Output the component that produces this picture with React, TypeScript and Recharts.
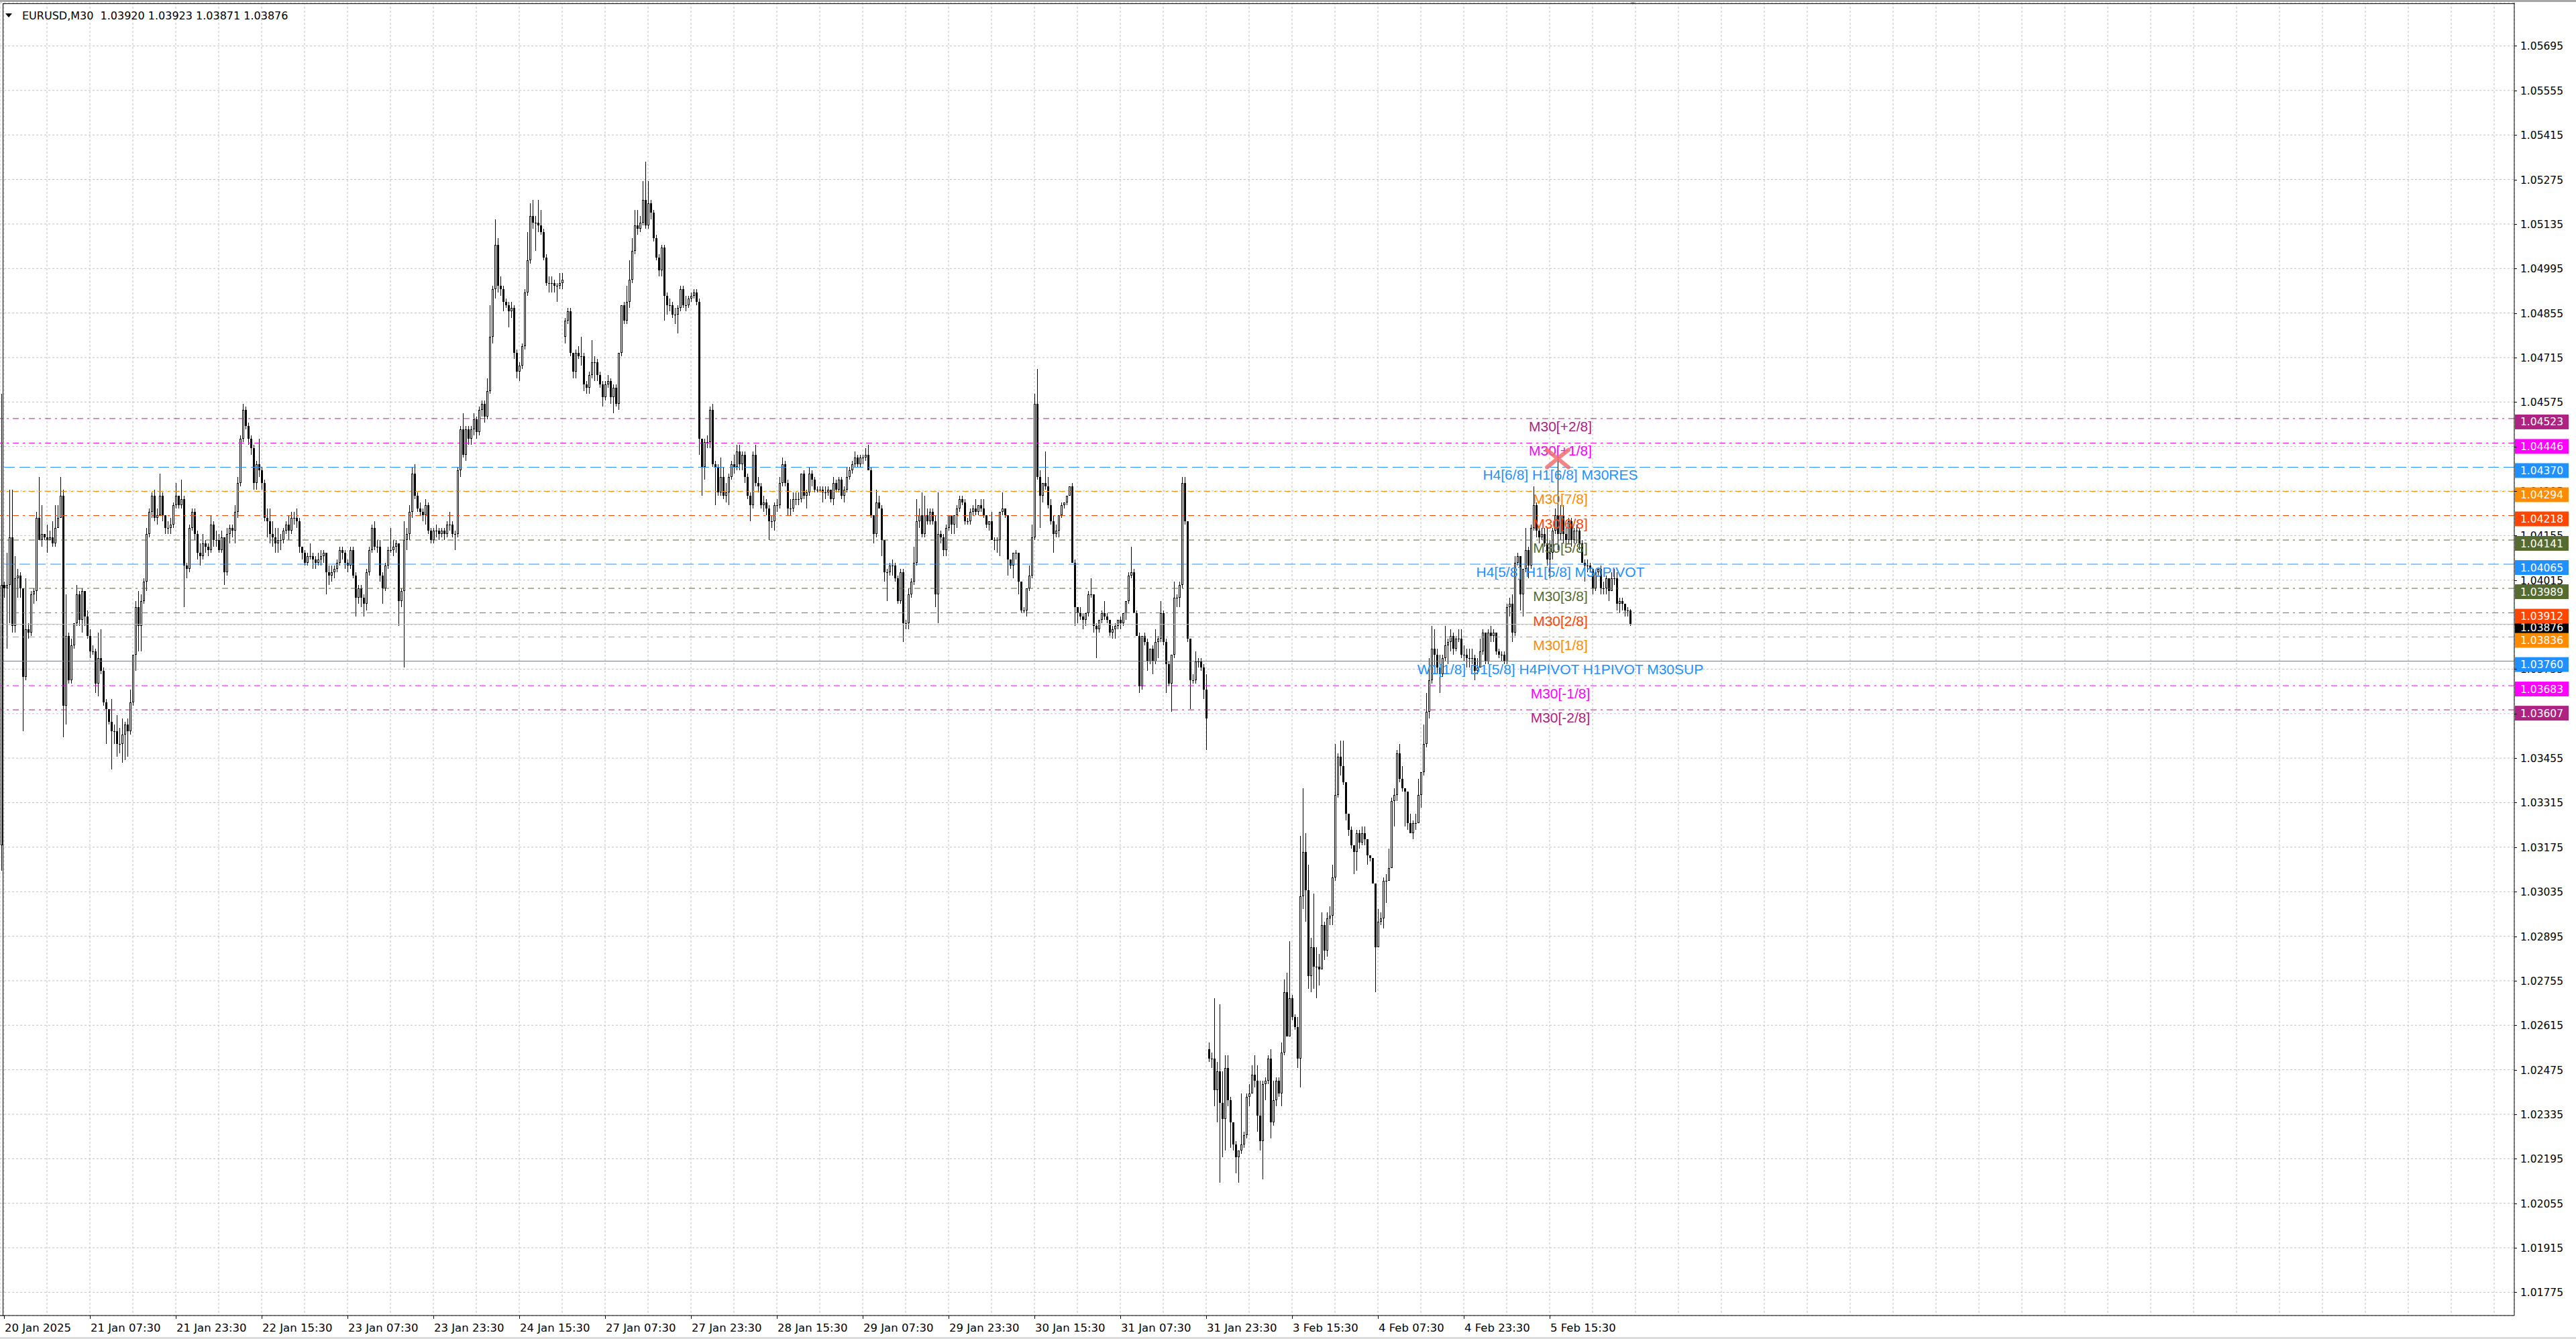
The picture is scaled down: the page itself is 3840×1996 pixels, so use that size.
import { Bar, CartesianGrid, ComposedChart, ReferenceDot, ReferenceLine, XAxis, YAxis } from 'recharts'

// EURUSD M30 candles, prices in pips above 1.0000.
// Each bar is [high, low, close] and opens at the previous close;
// a bar that gaps gets [open, high, low, close].
const jan20 = [
  [318, 460, 310, 400],
  [400, 401, 396, 399], [410, 380, 400], [430, 388, 415], [430, 385, 387], [409, 385, 402],
  [405, 396, 403], [404, 396, 399], [399, 354, 371], [402, 370, 386], [388, 383, 385],
  [398, 384, 397], [399, 394, 398], [423, 395, 421], [434, 414, 414], [425, 412, 416],
  [416, 414, 415], [419, 410, 414],
]
const jan21 = [
  [417, 414, 415], [420, 412, 413], [425, 412, 418], [425, 418, 421], [434, 421, 428],
  [430, 352, 362], [397, 356, 384], [385, 369, 370], [383, 369, 381], [388, 380, 388],
  [400, 387, 397], [398, 387, 389], [399, 385, 398], [398, 387, 390], [392, 383, 384],
  [386, 377, 379], [381, 378, 379], [380, 366, 369], [385, 365, 377], [386, 372, 373],
  [374, 362, 363], [364, 350, 361], [361, 356, 357], [364, 342, 354], [356, 350, 354],
  [359, 346, 350], [355, 347, 350], [358, 344, 353], [357, 345, 356], [358, 346, 354],
  [367, 353, 363], [378, 362, 378], [395, 373, 393], [398, 379, 387], [397, 379, 395],
  [402, 394, 401], [418, 398, 416], [424, 415, 423], [429, 421, 428], [430, 420, 421],
  [424, 419, 422], [435, 425, 428], [429, 420, 422], [422, 416, 418], [420, 416, 418],
  [421, 416, 419], [426, 418, 425], [432, 424, 428],
]
const jan22 = [
  [428, 424, 425], [433, 424, 427], [428, 393, 406], [407, 402, 405], [419, 404, 418],
  [424, 417, 423], [424, 414, 416], [417, 408, 410], [413, 406, 409], [416, 408, 413],
  [414, 410, 412], [413, 409, 411], [422, 410, 419], [420, 412, 414], [417, 412, 414],
  [416, 410, 411], [417, 410, 415], [415, 400, 404], [418, 403, 416], [419, 413, 418],
  [419, 415, 417], [425, 413, 423], [434, 421, 432], [447, 431, 446], [457, 445, 455],
  [456, 449, 450], [451, 444, 446], [447, 441, 443], [444, 430, 432], [439, 430, 438],
  [446, 434, 436], [437, 430, 432], [433, 420, 421], [424, 415, 420], [424, 413, 416],
  [420, 412, 415], [418, 410, 413], [418, 410, 414], [416, 411, 414], [418, 413, 417],
  [420, 416, 419], [422, 414, 417], [423, 416, 421], [423, 419, 421], [424, 418, 420],
  [421, 410, 412], [412, 408, 410], [411, 406, 407],
]
const jan23 = [
  [410, 406, 409], [413, 408, 409], [410, 405, 408], [409, 405, 407], [410, 406, 408],
  [411, 406, 409], [411, 407, 410], [410, 397, 404], [406, 400, 403], [406, 401, 404],
  [406, 402, 405], [408, 404, 407], [412, 406, 411], [412, 408, 410], [411, 405, 407],
  [408, 404, 406], [412, 405, 411], [412, 402, 403], [404, 390, 396], [400, 394, 399],
  [400, 393, 396], [397, 390, 394], [405, 392, 404], [412, 403, 411], [419, 410, 418],
  [420, 411, 412], [414, 410, 412], [414, 401, 403], [404, 394, 399], [407, 398, 406],
  [412, 405, 411], [418, 410, 411], [414, 409, 412], [414, 410, 413], [413, 387, 395],
  [399, 393, 398], [420, 374, 414], [418, 411, 416], [425, 414, 423], [437, 421, 435],
  [438, 427, 428], [429, 423, 424], [426, 422, 423], [424, 420, 422], [427, 419, 425],
  [426, 416, 417], [418, 413, 414], [418, 413, 417],
]
const jan24 = [
  [419, 415, 417], [418, 414, 416], [418, 415, 417], [418, 414, 416], [420, 415, 419],
  [423, 417, 419], [420, 415, 416], [417, 411, 416], [437, 415, 436], [450, 434, 449],
  [454, 440, 441], [450, 439, 449], [450, 444, 446], [450, 444, 449], [454, 447, 452],
  [453, 446, 448], [456, 447, 455], [458, 453, 457], [458, 451, 453], [465, 452, 461],
  [488, 460, 478], [494, 476, 493], [515, 490, 507], [509, 492, 494], [497, 491, 493],
  [494, 486, 489], [490, 487, 488], [489, 481, 486], [489, 484, 487], [488, 471, 473],
  [474, 465, 467], [470, 464, 469], [476, 468, 475], [493, 474, 492], [511, 491, 502],
  [520, 501, 516], [521, 512, 514], [516, 505, 514], [521, 511, 513], [518, 510, 511],
  [512, 502, 503], [504, 494, 495], [497, 492, 495], [497, 492, 495], [496, 492, 494],
  [495, 489, 494], [498, 493, 495], [498, 493, 496],
]
const jan27 = [
  [478, 484, 476, 483], [487, 482, 486], [487, 472, 473], [473, 465, 467], [474, 465, 473],
  [475, 471, 472], [478, 469, 472], [473, 461, 463], [464, 460, 462], [467, 460, 466],
  [477, 465, 470], [472, 464, 470], [471, 464, 466], [467, 462, 463], [464, 456, 459],
  [464, 458, 463], [466, 462, 464], [465, 457, 459], [463, 454, 462], [463, 456, 457],
  [473, 455, 473], [488, 472, 488], [489, 482, 483], [494, 482, 489], [502, 487, 496],
  [509, 495, 505], [518, 504, 513], [518, 510, 512], [516, 511, 514], [527, 513, 521],
  [533, 512, 513], [527, 512, 520], [521, 515, 517], [518, 508, 509], [510, 502, 503],
  [504, 497, 499], [507, 497, 506], [507, 483, 491], [492, 485, 488], [490, 486, 488],
  [489, 484, 485], [487, 482, 485], [488, 479, 487], [494, 486, 493], [494, 487, 488],
  [491, 486, 488], [491, 487, 490], [492, 489, 491],
]
const jan28 = [
  [493, 490, 492], [493, 488, 489], [490, 441, 446], [446, 428, 437], [446, 433, 445],
  [447, 443, 445], [456, 443, 455], [457, 437, 438], [439, 425, 437], [438, 428, 429],
  [440, 428, 434], [437, 427, 428], [432, 426, 429], [435, 425, 434], [439, 433, 438],
  [441, 435, 437], [444, 436, 442], [444, 436, 438], [442, 436, 441], [442, 432, 434],
  [435, 427, 428], [429, 420, 425], [442, 424, 441], [444, 431, 432], [434, 429, 431],
  [432, 424, 425], [428, 423, 426], [427, 422, 424], [425, 414, 420], [422, 418, 420],
  [426, 417, 425], [427, 423, 425], [434, 424, 432], [440, 431, 438], [439, 431, 432],
  [433, 422, 424], [427, 422, 424], [429, 423, 427], [429, 425, 427], [429, 425, 427],
  [435, 426, 435], [436, 427, 428], [430, 424, 429], [437, 428, 435], [436, 431, 433],
  [434, 429, 430], [431, 429, 430], [431, 429, 430],
]
const jan29 = [
  [431, 426, 429], [431, 427, 429], [431, 428, 430], [430, 426, 427], [434, 425, 432],
  [433, 429, 430], [434, 429, 433], [434, 427, 428], [431, 426, 430], [437, 429, 434],
  [437, 433, 436], [439, 435, 438], [442, 437, 440], [441, 437, 438], [441, 437, 440],
  [441, 438, 440], [443, 439, 441], [444, 436, 436], [437, 421, 422], [422, 413, 416],
  [430, 415, 426], [428, 424, 424], [425, 409, 414], [414, 401, 404], [405, 395, 404],
  [407, 403, 406], [408, 403, 406], [407, 401, 402], [403, 394, 395], [405, 394, 404],
  [405, 382, 388], [389, 386, 388], [399, 386, 397], [402, 396, 401], [412, 400, 407],
  [427, 406, 420], [424, 418, 422], [429, 415, 416], [428, 415, 422], [424, 419, 420],
  [424, 419, 423], [424, 419, 420], [422, 393, 397], [429, 388, 416], [417, 413, 415],
  [416, 409, 411], [419, 409, 418], [422, 417, 422],
]
const jan30 = [
  [422, 416, 419], [422, 416, 422], [425, 418, 424], [428, 423, 427], [428, 425, 426],
  [427, 419, 420], [421, 419, 420], [424, 419, 423], [425, 422, 424], [427, 422, 423],
  [425, 422, 425], [427, 423, 424], [427, 421, 422], [422, 418, 419], [420, 417, 420],
  [423, 414, 414], [415, 411, 414], [415, 410, 414], [423, 409, 423], [429, 422, 424],
  [424, 421, 422], [422, 403, 408], [408, 405, 406], [410, 402, 410], [411, 408, 410],
  [410, 397, 401], [401, 391, 392], [393, 391, 392], [399, 390, 399], [406, 398, 403],
  [419, 402, 415], [460, 414, 457], [468, 433, 434], [436, 418, 428], [432, 426, 432],
  [442, 430, 431], [434, 424, 425], [427, 419, 420], [422, 410, 416], [419, 415, 417],
  [422, 415, 422], [426, 421, 425], [426, 424, 426], [428, 425, 428], [431, 428, 431],
  [432, 407, 407], [408, 387, 393], [393, 388, 391],
]
const jan31 = [
  [393, 389, 390], [391, 386, 389], [391, 387, 391], [398, 390, 397], [402, 396, 397],
  [397, 385, 387], [388, 377, 386], [389, 385, 389], [392, 388, 391], [395, 389, 390],
  [391, 388, 389], [389, 384, 385], [387, 383, 386], [388, 383, 387], [389, 386, 389],
  [390, 386, 388], [391, 387, 391], [395, 389, 395], [404, 394, 403], [412, 402, 404],
  [405, 391, 391], [392, 384, 384], [385, 366, 368], [384, 367, 384], [385, 381, 382],
  [383, 373, 376], [380, 375, 380], [381, 372, 376], [386, 375, 382], [384, 377, 383],
  [395, 382, 391], [392, 381, 382], [383, 366, 375], [376, 368, 369], [378, 360, 378],
  [401, 377, 396], [397, 393, 396], [401, 393, 400], [434, 399, 432], [434, 419, 420],
  [420, 382, 383], [383, 361, 370], [372, 369, 370], [379, 369, 376], [377, 374, 376],
  [377, 373, 374], [375, 364, 367], [372, 348, 358],
]
const feb03 = [
  [254, 256, 250, 251], [253, 248, 251], [270, 236, 241], [250, 231, 247], [268, 212, 237],
  [247, 220, 232], [252, 222, 248], [252, 236, 238], [239, 223, 231], [231, 222, 224],
  [225, 215, 220], [222, 212, 222], [240, 221, 224], [228, 223, 227], [240, 226, 239],
  [243, 236, 240], [249, 240, 246], [252, 242, 244], [249, 228, 233], [244, 222, 225],
  [244, 213, 243], [245, 238, 244], [252, 243, 251], [254, 226, 231], [244, 230, 238],
  [245, 236, 244], [245, 239, 240], [256, 236, 253], [276, 252, 272], [278, 258, 258],
  [288, 258, 270], [271, 263, 264], [265, 260, 261], [264, 248, 251], [321, 242, 302],
  [336, 298, 316], [322, 294, 304], [312, 273, 277], [289, 272, 286], [303, 273, 280],
  [286, 270, 280], [284, 274, 279], [297, 279, 293], [294, 282, 285], [297, 283, 295],
  [299, 293, 296], [312, 293, 308], [350, 307, 334],
]
const feb04 = [
  [347, 333, 346], [351, 340, 343], [351, 337, 338], [338, 326, 328], [328, 321, 323],
  [324, 317, 318], [318, 309, 316], [323, 310, 322], [323, 317, 319], [324, 318, 322],
  [324, 318, 320], [320, 312, 315], [315, 313, 314], [314, 306, 306], [306, 272, 286],
  [298, 286, 294], [297, 293, 295], [308, 292, 307], [309, 300, 307], [317, 307, 311],
  [333, 311, 332], [336, 324, 334], [348, 332, 347], [350, 338, 339], [343, 335, 336],
  [336, 324, 335], [335, 323, 325], [328, 322, 322], [326, 320, 325], [328, 323, 325],
  [339, 325, 334], [341, 330, 341], [356, 340, 350], [366, 349, 360], [377, 358, 370],
  [387, 369, 380], [386, 374, 378], [380, 372, 374], [378, 366, 372], [378, 371, 377],
  [387, 376, 381], [383, 375, 382], [386, 379, 384], [385, 378, 380], [384, 379, 383],
  [386, 382, 383], [386, 377, 378], [381, 376, 378],
]
const feb05 = [
  [380, 374, 377], [380, 374, 377], [380, 375, 377], [378, 370, 373], [377, 372, 374],
  [383, 374, 379], [386, 378, 385], [385, 375, 376], [386, 375, 385], [387, 382, 384],
  [386, 382, 385], [385, 378, 379], [380, 377, 378], [379, 376, 378], [379, 375, 376],
  [394, 375, 393], [396, 390, 394], [397, 382, 385], [409, 384, 407], [410, 406, 409],
  [409, 392, 397], [405, 390, 405], [418, 404, 411], [412, 402, 406], [419, 405, 418],
  [431, 417, 425], [426, 415, 417], [418, 413, 415], [418, 414, 416], [418, 412, 413],
  [418, 406, 408], [414, 402, 410], [418, 408, 417], [424, 416, 422], [439.7, 411, 416],
  [425, 414, 422], [425, 413, 416], [418, 412, 414], [421, 413, 420], [421, 412, 414],
  [418, 413, 417], [419, 413, 417], [418, 411, 413], [414, 407, 407], [408, 401, 406],
  [408, 404, 406], [407, 404, 405], [405, 397, 399],
]
const feb06 = [
  [404, 398, 404], [405, 403, 405], [406, 397, 399], [401, 397, 399], [403, 397, 402],
  [402, 395, 398], [404, 398, 402], [405, 400, 402], [404, 392, 394], [396, 391, 395],
  [396, 392, 394], [394, 390, 392], [393, 390, 392], [392.0, 392.3, 387.1, 387.6],
]

const dayNames = ['20 Jan', '21 Jan', '22 Jan', '23 Jan', '24 Jan', '27 Jan', '28 Jan', '29 Jan', '30 Jan', '31 Jan', '3 Feb', '4 Feb', '5 Feb', '6 Feb']
const dayBars = [jan20, jan21, jan22, jan23, jan24, jan27, jan28, jan29, jan30, jan31, feb03, feb04, feb05, feb06]
const firstBarMinute = 15 * 60
const firstYear = '2025'
// the 15:00 bar is cut by the left edge; time scale starts on the next one
const LEAD = 1

const priceTicks = [
  1.01775, 1.01915, 1.02055, 1.02195, 1.02335, 1.02475, 1.02615, 1.02755, 1.02895, 1.03035,
  1.03175, 1.03315, 1.03455, 1.03595, 1.03735, 1.03875, 1.04015, 1.04155, 1.04295, 1.04435,
  1.04575, 1.04715, 1.04855, 1.04995, 1.05135, 1.05275, 1.05415, 1.05555, 1.05695,
]

// Murrey math levels
const levelPrices = [1.04523, 1.04446, 1.0437, 1.04294, 1.04218, 1.04141, 1.04065, 1.03989, 1.03912, 1.03836, 1.0376, 1.03683, 1.03607]
const levelNames = [
  'M30[+2/8]', 'M30[+1/8]', 'H4[6/8] H1[6/8] M30RES', 'M30[7/8]', 'M30[6/8]', 'M30[5/8]',
  'H4[5/8] H1[5/8] M30PIVOT', 'M30[3/8]', 'M30[2/8]', 'M30[1/8]',
  'W1[1/8] D1[5/8] H4PIVOT H1PIVOT M30SUP', 'M30[-1/8]', 'M30[-2/8]',
]
const levelColors = ['#AE2282', '#FF00FF', '#1E90FF', '#FF8C00', '#FF4500', '#556B2F', '#1E90FF', '#556B2F', '#FF4500', '#FF8C00', '#1E90FF', '#FF00FF', '#AE2282']
const levelStyles = ['dashdot', 'dashdot', 'dash', 'dashdot', 'dashdot', 'dashdot', 'dash', 'dashdot', 'dashdot', 'dashdot', 'solid', 'dashdot', 'dashdot']
const levelLabelTime = '5 Feb 17:30'
const crossTime = '5 Feb 17:00'

const SYMBOL = 'EURUSD,M30'
const SLOTS = 937
const P_MIN = 1.01702
const P_MAX = 1.05831
const W = 3840
const H = 1996

const dashes: Record<string, string | undefined> = { dashdot: '9 6 3 6', dash: '16 7', solid: undefined }
const axisFont = 'DejaVu Sans, Verdana, sans-serif'

const pad = (n: number) => String(n).padStart(2, '0')
const toPrice = (v: number) => 1 + v / 10000

type Row = { i: number; o?: number; h?: number; l?: number; c?: number; range?: number[]; time?: string }

function buildRows(): Row[] {
  const rows: Row[] = []
  let prev: number | null = null
  dayBars.forEach((bars, d) => {
    const start = d === 0 ? firstBarMinute : 0
    bars.forEach((b, k) => {
      let o: number, h: number, l: number, c: number
      if (b.length === 4) [o, h, l, c] = b
      else {
        ;[h, l, c] = b
        o = prev ?? c
      }
      const hi = Math.max(h, o, c)
      const lo = Math.min(l, o, c)
      const m = start + k * 30
      rows.push({
        i: rows.length,
        o: toPrice(o),
        h: toPrice(hi),
        l: toPrice(lo),
        c: toPrice(c),
        range: [toPrice(lo), toPrice(hi)],
        time: `${dayNames[d]} ${pad(Math.floor(m / 60))}:${pad(m % 60)}`,
      })
      prev = c
    })
  })
  while (rows.length < SLOTS) rows.push({ i: rows.length })
  return rows
}

const rows = buildRows()
const bars = rows.filter((r) => r.o != null) as Required<Row>[]
const lastBar = bars[bars.length - 1]
const crossBar = bars.find((r) => r.time === crossTime) as Required<Row>
const levelLabelBar = (bars.find((r) => r.time === levelLabelTime) as Required<Row>).i
const gridTicks = rows.filter((r) => r.i >= LEAD && (r.i - LEAD) % 16 === 0).map((r) => r.i)

function timeLabel(i: number) {
  const row = rows[i]
  if (!row || !row.time || i < LEAD || (i - LEAD) % 32 !== 0) return null
  return i === LEAD ? `${row.time.split(' ').slice(0, 2).join(' ')} ${firstYear}` : row.time
}

function Candle(props: any) {
  const { x, y, width, height, payload } = props
  if (!payload || payload.o == null) return null
  const { o, h, l, c } = payload
  const span = h - l
  const at = (p: number) => (span > 0 ? y + ((h - p) / span) * height : y)
  const cx = Math.floor(x + width / 2) + 0.5
  const top = Math.round(at(Math.max(o, c)))
  const bottom = Math.round(at(Math.min(o, c)))
  const wickTop = Math.round(y)
  const wickBottom = Math.max(Math.round(y + height), wickTop + 1)
  return (
    <g>
      <line x1={cx} x2={cx} y1={wickTop} y2={wickBottom} stroke="#000" strokeWidth={1} />
      {c > o ? (
        <rect x={cx - 1} y={top + 0.5} width={2} height={Math.max(bottom - top - 1, 0)} fill="#fff" stroke="#000" strokeWidth={1} />
      ) : (
        <rect x={cx - 1.5} y={top} width={3} height={Math.max(bottom - top, 1)} fill="#000" />
      )}
    </g>
  )
}

function TimeTick(props: any) {
  const { x, y, payload } = props
  const label = timeLabel(payload.value)
  if (!label) return null
  const tx = Math.round(x) + 0.5
  return (
    <g>
      <line x1={tx} x2={tx} y1={y} y2={y + 5} stroke="#000" />
      <text x={x + 1} y={y + 18} dominantBaseline="central" fontFamily={axisFont} fontSize={16.5} fill="#000">
        {label}
      </text>
    </g>
  )
}

function PriceTickMark(props: any) {
  const { x, y } = props
  const ty = Math.round(y) + 0.5
  return <line x1={x} x2={x + 4} y1={ty} y2={ty} stroke="#000" />
}

// price scale text is drawn with the reference layer so the level tags can sit on top of it
function PriceText(props: any) {
  const { viewBox, value } = props
  if (!viewBox) return null
  return (
    <text x={viewBox.x + viewBox.width + 9} y={viewBox.y + 1} dominantBaseline="central" fontFamily={axisFont} fontSize={15.5} fill="#000">
      {value.toFixed(5)}
    </text>
  )
}

function PriceTag(props: any) {
  const { viewBox, value, color } = props
  if (!viewBox) return null
  const x = viewBox.x + viewBox.width + 1
  const y = viewBox.y
  return (
    <g>
      <rect x={x} y={y - 6} width={80} height={22} fill={color} />
      <text x={x + 8} y={y + 5.5} dominantBaseline="central" fontFamily={axisFont} fontSize={15.5} fill="#fff">
        {value.toFixed(5)}
      </text>
    </g>
  )
}

function LevelText(props: any) {
  const { cx, cy, text, color } = props
  return (
    <text x={cx} y={cy + 11.5} textAnchor="middle" dominantBaseline="central" fontFamily="Liberation Sans, Arial, sans-serif" fontSize={21} fill={color}>
      {text}
    </text>
  )
}

function CrossMark(props: any) {
  const { cx, cy } = props
  return (
    <g stroke="#F07070" strokeWidth={6} strokeLinecap="round" opacity={0.85}>
      <line x1={cx - 16} y1={cy - 13} x2={cx + 16} y2={cy + 13} />
      <line x1={cx - 16} y1={cy + 13} x2={cx + 16} y2={cy - 13} />
    </g>
  )
}

function ShiftMark(props: any) {
  const { cx, cy } = props
  return <polygon points={`${cx - 6},${cy - 4} ${cx + 6},${cy - 4} ${cx},${cy + 3}`} fill="#a8a8a8" />
}

export default function App() {
  return (
    <div style={{ position: 'absolute', left: 0, top: 0, width: W, height: H, background: '#fff', overflow: 'hidden' }}>
      <ComposedChart width={W} height={H} data={rows} margin={{ top: 4, right: 0, bottom: 0, left: 0 }} barCategoryGap={0}>
        <CartesianGrid stroke="#c0c0c0" strokeDasharray="3 3" />
        <XAxis
          dataKey="i"
          type="category"
          ticks={gridTicks}
          interval={0}
          tick={<TimeTick />}
          tickLine={false}
          tickSize={0}
          tickMargin={0}
          axisLine={{ stroke: '#000' }}
          height={35}
        />
        <YAxis
          orientation="right"
          type="number"
          domain={[P_MIN, P_MAX]}
          ticks={priceTicks}
          allowDataOverflow
          interval={0}
          tick={<PriceTickMark />}
          tickLine={false}
          tickSize={0}
          tickMargin={0}
          axisLine={{ stroke: '#000' }}
          width={92}
        />
        {levelPrices.map((p, k) => (
          <ReferenceLine key={`l${k}`} y={p} stroke={levelColors[k]} strokeDasharray={dashes[levelStyles[k]]} strokeWidth={1} />
        ))}
        <ReferenceLine y={lastBar.c} stroke="#c0c0c0" strokeWidth={1} />
        <Bar dataKey="range" shape={<Candle />} barSize={3} isAnimationActive={false} />
        {levelPrices.map((p, k) => (
          <ReferenceDot key={`t${k}`} x={levelLabelBar} y={p} r={0} shape={<LevelText text={levelNames[k]} color={levelColors[k]} />} />
        ))}
        <ReferenceDot x={crossBar.i} y={crossBar.h} r={0} shape={<CrossMark />} />
        <ReferenceDot x={lastBar.i + 1} y={P_MAX} r={0} ifOverflow="visible" shape={<ShiftMark />} />
        {priceTicks.map((p) => (
          <ReferenceLine key={`p${p}`} y={p} stroke="none" label={<PriceText value={p} />} />
        ))}
        <ReferenceLine y={lastBar.c} stroke="none" label={<PriceTag value={lastBar.c} color="#000" />} />
        {levelPrices.map((p, k) => (
          <ReferenceLine key={`b${k}`} y={p} stroke="none" label={<PriceTag value={p} color={levelColors[k]} />} />
        ))}
      </ComposedChart>
      <div style={{ position: 'absolute', left: 0, top: 0, width: W, height: 3, background: '#a8a8a8' }} />
      <div style={{ position: 'absolute', left: 0, bottom: 0, width: W, height: 3, background: '#dcdcdc' }} />
      <div style={{ position: 'absolute', left: 4, top: 5, width: 3744, height: 1, background: '#000' }} />
      <div style={{ position: 'absolute', left: 4, top: 5, width: 1, height: 1957, background: '#000' }} />
      <div style={{ position: 'absolute', left: 8, top: 14, display: 'flex', alignItems: 'center', fontFamily: axisFont, fontSize: 16, color: '#000', whiteSpace: 'pre' }}>
        <svg width={11} height={7} style={{ marginRight: 14 }}>
          <polygon points="0,0 10,0 5,6" fill="#000" />
        </svg>
        {`${SYMBOL}  ${lastBar.o.toFixed(5)} ${lastBar.h.toFixed(5)} ${lastBar.l.toFixed(5)} ${lastBar.c.toFixed(5)}`}
      </div>
    </div>
  )
}
